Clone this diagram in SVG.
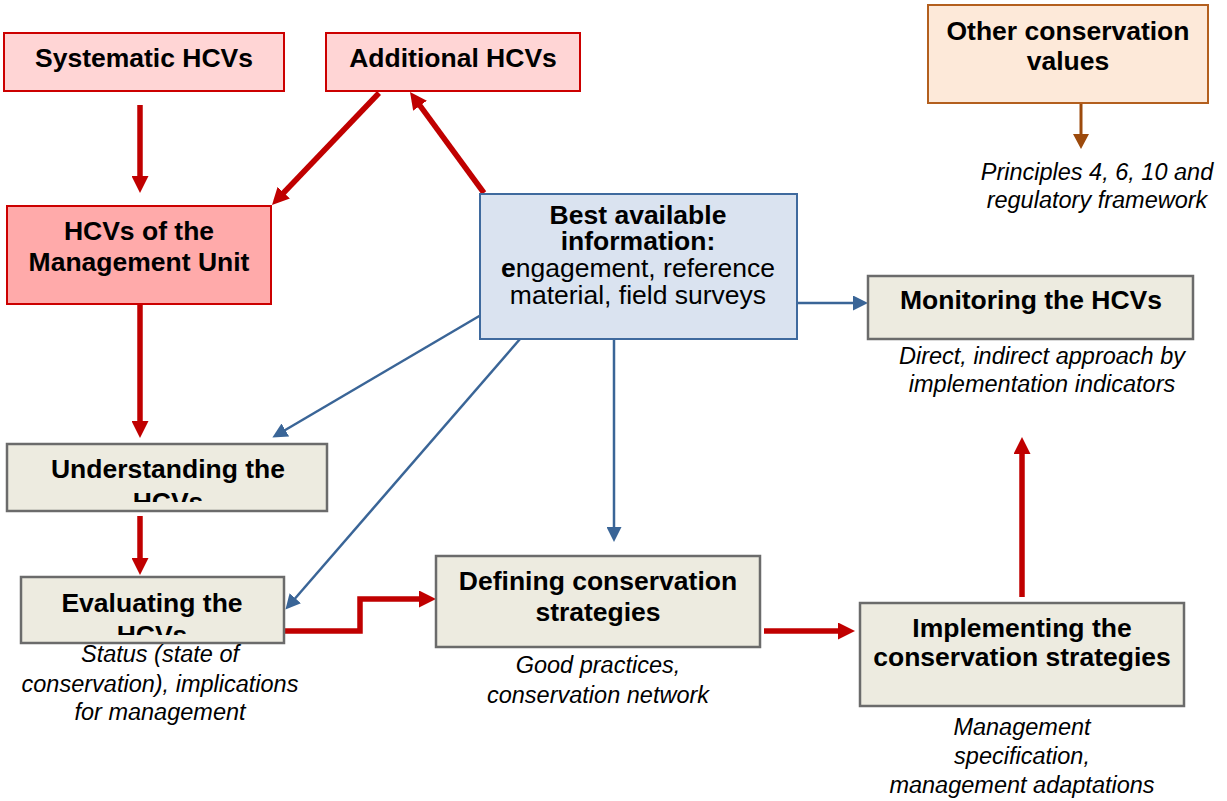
<svg xmlns="http://www.w3.org/2000/svg" width="1227" height="801" viewBox="0 0 1227 801">
<style>
  text { font-family: "Liberation Sans", Arial, sans-serif; fill: #000; text-anchor: middle; }
  .t { font-size: 26.5px; font-weight: bold; }
  .r { font-size: 26.5px; }
  .n { font-size: 23.5px; font-style: italic; }
  .pink { fill: #FFD5D5; stroke: #CC0000; stroke-width: 2; }
  .pinkd { fill: #FFAAAA; stroke: #CC0000; stroke-width: 2; }
  .blue { fill: #DAE3F0; stroke: #3F6A9E; stroke-width: 2; }
  .gray { fill: #EDEBE0; stroke: #6B6B6B; stroke-width: 2.5; }
  .peach { fill: #FDE9D9; stroke: #B35F1E; stroke-width: 2; }
  .ar { fill: none; stroke: #C00000; stroke-width: 5.5; marker-end: url(#mr); }
  .ab { fill: none; stroke: #3A6597; stroke-width: 2.5; marker-end: url(#mb); }
  .ao { fill: none; stroke: #9C4A0C; stroke-width: 3; marker-end: url(#mo); }
</style>
<defs>
  <marker id="mr" markerUnits="userSpaceOnUse" markerWidth="17" markerHeight="17" viewBox="0 0 17 17" refX="6" refY="8.5" orient="auto">
    <path d="M0,0 L17,8.5 L0,17 z" fill="#C00000"/>
  </marker>
  <marker id="mb" markerUnits="userSpaceOnUse" markerWidth="15" markerHeight="15" viewBox="0 0 15 15" refX="5" refY="7.5" orient="auto">
    <path d="M0,0 L15,7.5 L0,15 z" fill="#3A6597"/>
  </marker>
  <marker id="mo" markerUnits="userSpaceOnUse" markerWidth="15" markerHeight="16" viewBox="0 0 15 16" refX="5" refY="8" orient="auto">
    <path d="M0,0 L15,8 L0,16 z" fill="#9C4A0C"/>
  </marker>
  <clipPath id="clipU"><rect x="7" y="444" width="320" height="58"/></clipPath>
  <clipPath id="clipE"><rect x="21" y="577" width="263" height="58"/></clipPath>
</defs>
<rect width="1227" height="801" fill="#fff"/>

<g id="connectors">
  <path class="ar" d="M140,105 V182"/>
  <path class="ar" d="M379,93 L279.6,197"/>
  <path class="ar" d="M484,193 L416.5,100.9"/>
  <path class="ar" d="M140,304 V427"/>
  <path class="ar" d="M140,516 V564"/>
  <path class="ar" d="M284,631 H360 V599 H425"/>
  <path class="ar" d="M764,631 H844"/>
  <path class="ar" d="M1022,597 V448"/>
  <path class="ab" d="M481,315 L281,432.5"/>
  <path class="ab" d="M520,339 L292,602"/>
  <path class="ab" d="M614,339 V532"/>
  <path class="ab" d="M797,303 H858"/>
  <path class="ao" d="M1081,103 V139"/>
</g>

<g id="systematic">
  <rect class="pink" x="4" y="33" width="280" height="58"/>
  <text class="t" x="144" y="67">Systematic HCVs</text>
</g>
<g id="additional">
  <rect class="pink" x="326" y="33" width="254" height="58"/>
  <text class="t" x="453" y="67">Additional HCVs</text>
</g>
<g id="mu">
  <rect class="pinkd" x="7" y="206" width="264" height="98"/>
  <text class="t" x="139" y="240">HCVs of the</text>
  <text class="t" x="139" y="271">Management Unit</text>
</g>
<g id="best">
  <rect class="blue" x="480" y="194" width="317" height="145"/>
  <text class="t" x="638" y="224">Best available</text>
  <text class="t" x="638" y="250">information:</text>
  <text class="r" x="638" y="277"><tspan font-weight="bold">e</tspan>ngagement, reference</text>
  <text class="r" x="638" y="304">material, field surveys</text>
</g>
<g id="other">
  <rect class="peach" x="928" y="5" width="280" height="98"/>
  <text class="t" x="1068" y="40">Other conservation</text>
  <text class="t" x="1068" y="70">values</text>
  <text class="n" x="1097" y="180">Principles 4, 6, 10 and</text>
  <text class="n" x="1097" y="208">regulatory framework</text>
</g>
<g id="monitoring">
  <rect class="gray" x="868" y="276" width="325" height="63"/>
  <text class="t" x="1031" y="309">Monitoring the HCVs</text>
  <text class="n" x="1042" y="364">Direct, indirect approach by</text>
  <text class="n" x="1042" y="392">implementation indicators</text>
</g>
<g id="understanding">
  <rect class="gray" x="7" y="444" width="320" height="67"/>
  <text class="t" x="168" y="478">Understanding the</text>
  <text class="t" x="168" y="511" clip-path="url(#clipU)">HCVs</text>
</g>
<g id="evaluating">
  <rect class="gray" x="21" y="577" width="263" height="66"/>
  <text class="t" x="152" y="612">Evaluating the</text>
  <text class="t" x="152" y="644" clip-path="url(#clipE)">HCVs</text>
  <text class="n" x="160" y="662">Status (state of</text>
  <text class="n" x="160" y="692">conservation), implications</text>
  <text class="n" x="160" y="720">for management</text>
</g>
<g id="defining">
  <rect class="gray" x="436" y="556" width="324" height="91"/>
  <text class="t" x="598" y="590">Defining conservation</text>
  <text class="t" x="598" y="621">strategies</text>
  <text class="n" x="598" y="673">Good practices,</text>
  <text class="n" x="598" y="703">conservation network</text>
</g>
<g id="implementing">
  <rect class="gray" x="860" y="603" width="324" height="103"/>
  <text class="t" x="1022" y="637">Implementing the</text>
  <text class="t" x="1022" y="666">conservation strategies</text>
  <text class="n" x="1022" y="735">Management</text>
  <text class="n" x="1022" y="764">specification,</text>
  <text class="n" x="1022" y="793">management adaptations</text>
</g>
</svg>
